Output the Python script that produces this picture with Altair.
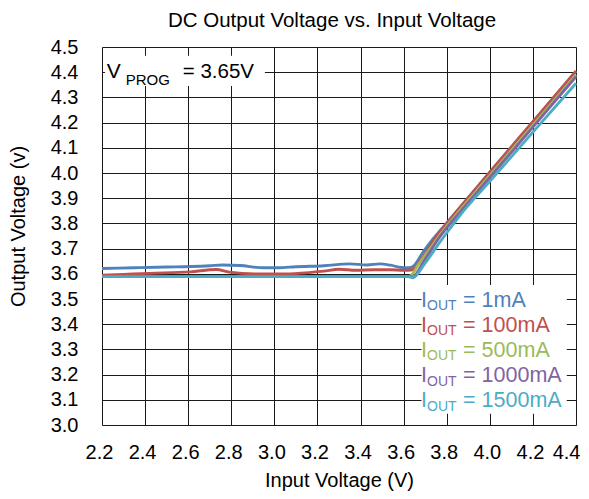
import altair as alt
import pandas as pd

FONT = "Liberation Sans"

series_names = ["1mA", "100mA", "500mA", "1000mA", "1500mA"]
series_colors = ["#4F81BD", "#C0504D", "#9BBB59", "#8064A2", "#4BACC6"]

x_ticks = [2.2, 2.4, 2.6, 2.8, 3.0, 3.2, 3.4, 3.6, 3.8, 4.0, 4.2, 4.4]
y_ticks = [3.0, 3.1, 3.2, 3.3, 3.4, 3.5, 3.6, 3.7, 3.8, 3.9, 4.0, 4.1, 4.2, 4.3, 4.4, 4.5]

# 1mA
vin_1 = [2.2, 2.35, 2.5, 2.61, 2.70, 2.76, 2.84, 2.95, 3.02, 3.10, 3.23, 3.35, 3.43,
         3.49, 3.54, 3.59, 3.625, 3.645, 3.665, 3.69, 3.72, 3.76, 3.8, 4.0, 4.2, 4.4]
vout_1 = [3.621, 3.624, 3.627, 3.629, 3.632, 3.635, 3.633, 3.624, 3.624, 3.628, 3.632, 3.639, 3.635,
          3.639, 3.634, 3.625, 3.624, 3.630, 3.652, 3.686, 3.721, 3.762, 3.802, 4.003, 4.203, 4.402]
# 100mA
vin_2 = [2.2, 2.3, 2.42, 2.61, 2.73, 2.79, 2.91, 3.07, 3.23, 3.30, 3.38, 3.46, 3.54, 3.60,
         3.635, 3.655, 3.68, 3.71, 3.75, 3.8, 4.0, 4.2, 4.4]
vout_2 = [3.595, 3.598, 3.602, 3.608, 3.617, 3.607, 3.600, 3.600, 3.611, 3.618, 3.614, 3.616, 3.616, 3.614,
          3.615, 3.626, 3.656, 3.692, 3.747, 3.800, 4.003, 4.204, 4.405]
# 500mA
vin_3 = [2.2, 2.6, 3.0, 3.4, 3.625, 3.645, 3.665, 3.69, 3.72, 3.76, 3.8, 4.0, 4.2, 4.4]
vout_3 = [3.590, 3.590, 3.590, 3.590, 3.590, 3.604, 3.633, 3.662, 3.697, 3.745, 3.789, 3.990, 4.190, 4.390]
# 1000mA
vin_4 = [2.2, 2.6, 3.0, 3.4, 3.63, 3.645, 3.665, 3.69, 3.72, 3.76, 3.8, 3.85, 4.0, 4.2, 4.4]
vout_4 = [3.590, 3.590, 3.590, 3.590, 3.589, 3.588, 3.608, 3.645, 3.684, 3.737, 3.782, 3.833, 3.982, 4.182, 4.382]
# 1500mA
vin_5 = [2.2, 2.6, 3.0, 3.4, 3.62, 3.645, 3.665, 3.69, 3.72, 3.76, 3.8, 3.86, 4.0, 4.2, 4.4]
vout_5 = [3.589, 3.589, 3.589, 3.589, 3.589, 3.584, 3.600, 3.630, 3.666, 3.716, 3.762, 3.830, 3.967, 4.162, 4.356]

vins = [vin_1, vin_2, vin_3, vin_4, vin_5]
vouts = [vout_1, vout_2, vout_3, vout_4, vout_5]

legend_rows_y = [3.5, 3.4, 3.3, 3.2, 3.1]
legend_x = 3.681
legend_box_x = [3.683, 4.357]
legend_box_y = [3.045, 3.556]

vprog_label = "= 3.65V"
vprog_x = 2.222
vprog_y = 4.4
vprog_box_x = [2.214, 2.956]
vprog_box_y = [4.345, 4.465]

x_enc = alt.X("x:Q", scale=alt.Scale(domain=[2.2, 4.4], nice=False, zero=False),
              axis=alt.Axis(values=x_ticks, format=".1f", title="Input Voltage (V)",
                            grid=True, ticks=False, tickSize=0, domain=False,
                            labelFontSize=20, labelFont=FONT, labelColor="black",
                            labelPadding=17, labelFlush=False, labelOverlap=False,
                            labelAlign=alt.expr("datum.value > 4.3 ? 'right' : 'center'"),
                            labelOffset=alt.expr("datum.value > 4.3 ? 4 : -3"),
                            titleFont=FONT, titleFontSize=20, titleFontWeight="normal",
                            titleColor="black", titleY=45, titleBaseline="top",
                            gridColor="#1a1a1a", gridWidth=1, gridOpacity=1))
y_enc = alt.Y("y:Q", scale=alt.Scale(domain=[3.0, 4.5], nice=False, zero=False),
              axis=alt.Axis(values=y_ticks, format=".1f", title="Output Voltage (v)",
                            grid=True, ticks=False, tickSize=0, domain=False,
                            labelFontSize=20, labelFont=FONT, labelColor="black",
                            labelPadding=24, labelFlush=False, labelOverlap=False,
                            titleFont=FONT, titleFontSize=20, titleFontWeight="normal",
                            titleColor="black", titleX=-84, titleY=179,
                            titleBaseline="middle", titleAlign="center", titleAngle=270,
                            gridColor="#1a1a1a", gridWidth=1, gridOpacity=1))

layers = []
for i, name in enumerate(series_names):
    df = pd.DataFrame({"x": vins[i], "y": vouts[i]})
    layers.append(
        alt.Chart(df).mark_line(color=series_colors[i], strokeWidth=2.8, interpolate="monotone")
    )

box_df = pd.DataFrame({"x": [legend_box_x[0], vprog_box_x[0]], "x2": [legend_box_x[1], vprog_box_x[1]],
                       "y": [legend_box_y[0], vprog_box_y[0]], "y2": [legend_box_y[1], vprog_box_y[1]]})
layers.append(alt.Chart(box_df).mark_rect(color="white").encode(x2="x2", y2="y2"))

leg_df = pd.DataFrame({"x": [legend_x] * 5, "y": legend_rows_y, "s": series_names,
                       "rest": ["= " + n for n in series_names]})
col = alt.Color("s:N", scale=alt.Scale(domain=series_names, range=series_colors), legend=None)
layers.append(alt.Chart(leg_df).mark_text(align="left", baseline="alphabetic", font=FONT,
                                          fontSize=21.5, dy=7.5).encode(
    text=alt.value("I"), color=col))
layers.append(alt.Chart(leg_df).mark_text(align="left", baseline="alphabetic", font=FONT,
                                          fontSize=14, dx=6, dy=11).encode(
    text=alt.value("OUT"), color=col))
layers.append(alt.Chart(leg_df).mark_text(align="left", baseline="alphabetic", font=FONT,
                                          fontSize=21.5, dx=42, dy=7.5).encode(
    text="rest:N", color=col))

vp_df = pd.DataFrame({"x": [vprog_x], "y": [vprog_y], "t": [vprog_label]})
layers.append(alt.Chart(vp_df).mark_text(align="left", baseline="alphabetic", font=FONT,
                                         fontSize=21, dy=6, color="black").encode(
    text=alt.value("V")))
layers.append(alt.Chart(vp_df).mark_text(align="left", baseline="alphabetic", font=FONT,
                                         fontSize=15, dx=19, dy=12.5, color="black").encode(
    text=alt.value("PROG")))
layers.append(alt.Chart(vp_df).mark_text(align="left", baseline="alphabetic", font=FONT,
                                         fontSize=20.5, dx=76, dy=6, color="black").encode(
    text="t:N"))

chart = alt.layer(*layers).encode(x=x_enc, y=y_enc).properties(
    width=474, height=378,
    title=alt.TitleParams("DC Output Voltage vs. Input Voltage", font=FONT, fontSize=20.5,
                          fontWeight="normal", color="black", anchor="middle", dx=-7, offset=6),
    autosize=alt.AutoSizeParams(type="none"),
    padding={"left": 94, "top": 39, "right": 5, "bottom": 66},
).configure_view(stroke="black", strokeWidth=2).configure(background="white")

chart.save("out.html", embed_options={"renderer": "svg", "actions": False})
